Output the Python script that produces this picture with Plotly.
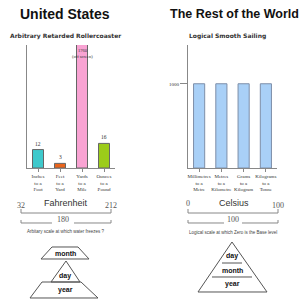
import plotly.graph_objects as go

# ---------------- data ----------------
us_categories = ["Inches<br>to a<br>Foot", "Feet<br>to a<br>Yard", "Yards<br>to a<br>Mile", "Ounces<br>to a<br>Pound"]
us_values = [12, 3, 1760, 16]
us_value_labels = ["12", "3", "1760<br>(off screen)", "16"]
us_colors = ["#3ec9cc", "#e8641c", "#f9a3d3", "#9ccc1a"]

world_categories = ["Millimetres<br>to a<br>Metre", "Metres<br>to a<br>Kilometre", "Grams<br>to a<br>Kilogram", "Kilograms<br>to a<br>Tonne"]
world_values = [1000, 1000, 1000, 1000]
world_color = "#a9d0f7"

US_YMAX = 80
WORLD_YMAX = 1460

W = H = 300


def px(x):
    return x / W


def py(y):
    return 1 - y / H


fig = go.Figure()

fig.add_trace(go.Bar(
    x=us_categories, y=us_values, width=0.5,
    marker=dict(color=us_colors, line=dict(color="#666666", width=1)),
    xaxis="x", yaxis="y", showlegend=False, hoverinfo="skip",
))
fig.add_trace(go.Bar(
    x=world_categories, y=world_values, width=0.5,
    marker=dict(color=world_color, line=dict(color="#7d8ea8", width=1)),
    xaxis="x2", yaxis="y2", showlegend=False, hoverinfo="skip",
))

tick_font = dict(family="Liberation Serif", size=5, color="#333333")

fig.update_layout(
    width=W, height=H,
    margin=dict(l=0, r=0, t=0, b=0),
    paper_bgcolor="white", plot_bgcolor="white",
    bargap=0.5,
    xaxis=dict(domain=[px(27), px(115)], anchor="y", showline=True, linecolor="#888888", linewidth=1,
               ticks="outside", ticklen=3, tickcolor="#888888", tickfont=tick_font, showgrid=False,
               tickangle=0, automargin=False),
    yaxis=dict(domain=[py(168), py(45)], anchor="x", range=[0, US_YMAX], showline=True,
               linecolor="#888888", linewidth=1, showticklabels=False, ticks="", showgrid=False,
               zeroline=False),
    xaxis2=dict(domain=[px(188), px(277)], anchor="y2", showline=True, linecolor="#888888", linewidth=1,
                ticks="outside", ticklen=3, tickcolor="#888888", tickfont=tick_font, showgrid=False,
                tickangle=0, automargin=False),
    yaxis2=dict(domain=[py(168), py(45)], anchor="x2", range=[0, WORLD_YMAX], showline=True,
                linecolor="#888888", linewidth=1, tickvals=[1000], ticktext=["1000"], ticks="outside",
                ticklen=7, tickcolor="#888888", tickfont=tick_font, showgrid=False, zeroline=False),
)

annotations = []
# value labels of US bars
for cat, val, lab in zip(us_categories, us_values, us_value_labels):
    if val > US_YMAX:
        annotations.append(dict(x=cat, y=US_YMAX, xref="x", yref="y", text=lab, showarrow=False,
                                yanchor="top", yshift=-1, font=dict(family="Liberation Serif", size=4.5, color="#333333")))
    else:
        annotations.append(dict(x=cat, y=val, xref="x", yref="y", text=lab, showarrow=False,
                                yanchor="bottom", yshift=1, font=dict(family="Liberation Serif", size=5.5, color="#333333")))


def text(x, y, s, size, family="Liberation Sans", color="#222222", bold=False):
    if bold:
        s = "<b>" + s + "</b>"
    annotations.append(dict(x=px(x), y=py(y), xref="paper", yref="paper", text=s, showarrow=False,
                            xanchor="center", yanchor="middle", font=dict(family=family, size=size, color=color)))


text(65, 14, "United States", 14, bold=True, color="#111111")
text(234, 14, "The Rest of the World", 12.5, bold=True, color="#111111")
text(65, 36, "Arbitrary Retarded Rollercoaster", 6, family="DejaVu Sans", bold=True, color="#333333")
text(227, 36, "Logical Smooth Sailing", 6, family="DejaVu Sans", bold=True, color="#333333")

# Fahrenheit
text(21, 205, "32", 8, family="Liberation Serif", color="#555555")
text(66, 203, "Fahrenheit", 9, color="#333333")
text(111, 205, "212", 8, family="Liberation Serif", color="#555555")
text(63, 219, "180", 8, family="Liberation Serif", color="#555555")
text(66, 231, "Arbitary scale at which water freezes ?", 4.5, color="#444444")
# Celsius
text(188, 203, "0", 8, family="Liberation Serif", color="#555555")
text(234, 203, "Celsius", 9, color="#333333")
text(278, 205, "100", 8, family="Liberation Serif", color="#555555")
text(233, 219, "100", 8, family="Liberation Serif", color="#555555")
text(233, 232, "Logical scale at which Zero is the Base level", 4.5, color="#444444")

# pyramid labels
text(65, 253, "month", 7, bold=True, color="#111111")
text(65, 276, "day", 7, bold=True, color="#111111")
text(65, 290, "year", 7, bold=True, color="#111111")
text(232, 256, "day", 7, bold=True, color="#111111")
text(232, 270, "month", 7, bold=True, color="#111111")
text(232, 284, "year", 7, bold=True, color="#111111")

fig.update_layout(annotations=annotations)

shapes = []


def path(points, closed=True, color="#888888", width=1):
    d = "M " + " L ".join(f"{px(x):.5f},{py(y):.5f}" for x, y in points)
    if closed:
        d += " Z"
    shapes.append(dict(type="path", path=d, xref="paper", yref="paper",
                       line=dict(color=color, width=width), fillcolor="rgba(0,0,0,0)"))


# Fahrenheit scale lines
path([(21, 209), (21, 213), (111, 213), (111, 209)], closed=False)
path([(52, 223), (21, 223), (21, 220)], closed=False)
path([(74, 223), (111, 223), (111, 220)], closed=False)
# Celsius scale lines
path([(188, 209), (188, 213), (278, 213), (278, 209)], closed=False)
path([(224, 223), (188, 223), (188, 220)], closed=False)
path([(242, 223), (278, 223), (278, 220)], closed=False)

# Left (inverted) pyramid
path([(52, 247), (78, 247), (89, 259), (41, 259)], color="#555555")
path([(66, 261), (80, 282), (51, 282)], color="#555555")
path([(42, 282), (81, 282), (98, 298), (30, 298)], color="#555555")
# Right pyramid
path([(232, 242), (267, 292), (198, 292)], color="#555555")
path([(222, 263), (242, 263)], closed=False, color="#555555")
path([(212, 277), (252, 277)], closed=False, color="#555555")

fig.update_layout(shapes=shapes)

fig.write_html("out.html")
